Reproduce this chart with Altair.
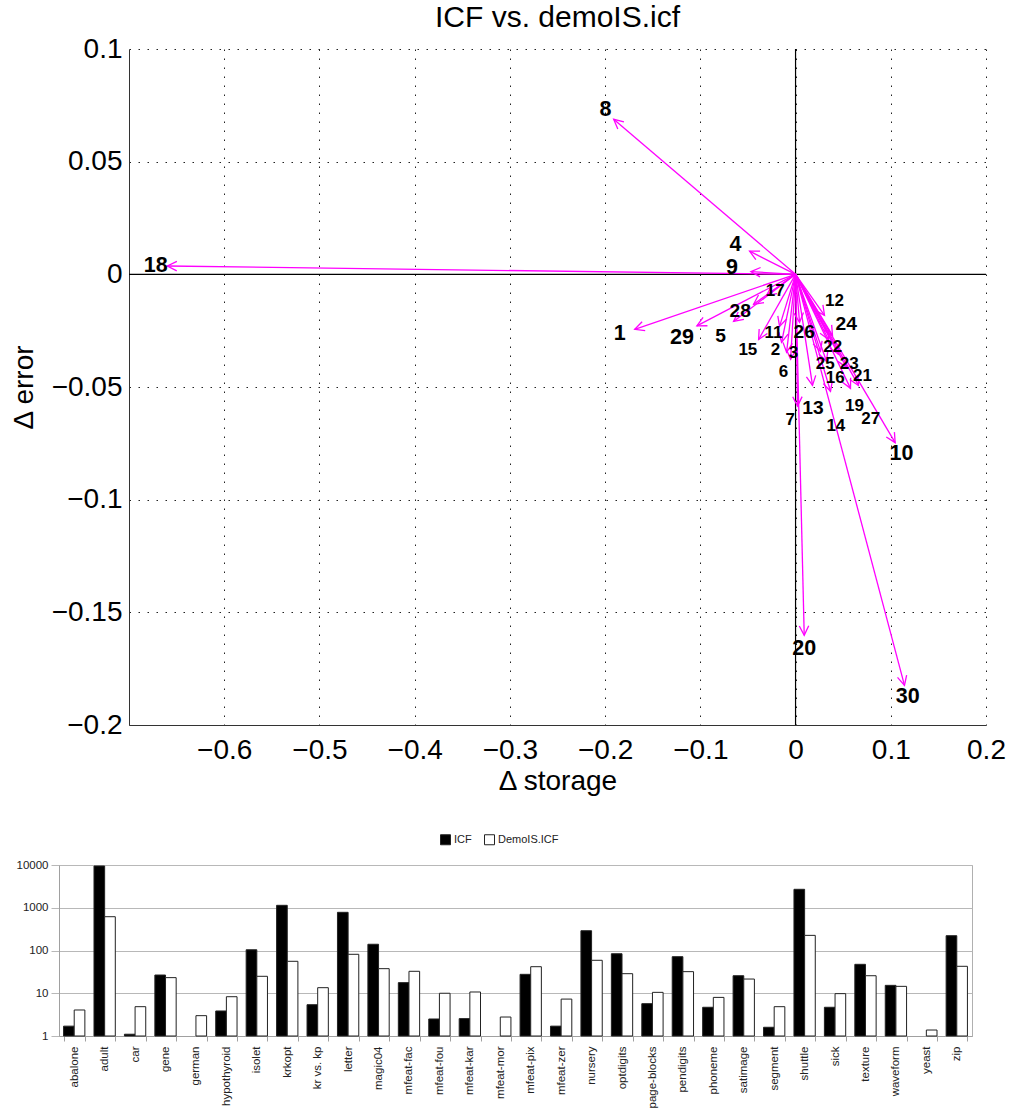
import math
import altair as alt
import pandas as pd

FONT = "Liberation Sans"

# ---------------- top panel data (Δ storage, Δ error per case) ----------------
case_ids = list(range(1, 31))
tip_storage = [-0.1689, -0.0147, -0.0094, -0.0483, -0.0651, -0.0052, 0.0021, -0.1910, -0.0469, 0.1046,
               -0.0168, 0.0304, 0.0178, 0.0367, -0.0388, 0.0325, -0.0304, -0.6597, 0.0577, 0.0091,
               0.0535, 0.0346, 0.0451, 0.0388, 0.0262, 0.0042, 0.0661, -0.0441, -0.1036, 0.1144]
tip_error = [-0.0244, -0.0302, -0.0346, 0.0103, -0.0209, -0.0377, -0.0585, 0.0688, 0.0012, -0.0747,
             -0.0231, -0.0182, -0.0493, -0.0519, -0.0289, -0.0386, -0.0093, 0.0037, -0.0506, -0.1602,
             -0.0413, -0.0289, -0.0355, -0.0271, -0.0342, -0.0213, -0.0493, -0.0133, -0.0229, -0.1824]
label_storage = [-0.1847, -0.0210, -0.0021, -0.0630, -0.0787, -0.0126, -0.0056, -0.1997, -0.0668, 0.1112,
                 -0.0231, 0.0409, 0.0182, 0.0423, -0.0501, 0.0417, -0.0213, -0.6719, 0.0619, 0.0091,
                 0.0703, 0.0391, 0.0563, 0.0532, 0.0311, 0.0091, 0.0790, -0.0580, -0.1193, 0.1178]
label_error = [-0.0266, -0.0337, -0.0351, 0.0129, -0.0275, -0.0434, -0.0647, 0.0729, 0.0027, -0.0799,
               -0.0262, -0.0119, -0.0592, -0.0673, -0.0336, -0.0458, -0.0074, 0.0037, -0.0585, -0.1661,
               -0.0451, -0.0321, -0.0396, -0.0222, -0.0396, -0.0256, -0.0644, -0.0163, -0.0281, -0.1876]
label_class = ["L", "S", "S", "L", "M", "S", "S", "L", "L", "L",
               "S", "S", "M", "S", "S", "S", "S", "L", "S", "L",
               "S", "S", "S", "M", "S", "M", "S", "M", "L", "L"]

x_ticks = [-0.6, -0.5, -0.4, -0.3, -0.2, -0.1, 0, 0.1, 0.2]
y_ticks = [0.1, 0.05, 0, -0.05, -0.1, -0.15, -0.2]
X_DOM = [-0.7, 0.2]
Y_DOM = [-0.2, 0.1]

# ---------------- bottom panel data ----------------
datasets = ["abalone", "adult", "car", "gene", "german", "hypothyroid", "isolet", "krkopt", "kr vs. kp",
            "letter", "magic04", "mfeat-fac", "mfeat-fou", "mfeat-kar", "mfeat-mor", "mfeat-pix",
            "mfeat-zer", "nursery", "optdigits", "page-blocks", "pendigits", "phoneme", "satimage",
            "segment", "shuttle", "sick", "texture", "waveform", "yeast", "zip"]
icf_values = [1.7, 9480, 1.1, 26.7, None, 3.85, 104, 1140, 5.4, 782, 140, 17.7, 2.5, 2.55, None, 27.7,
              1.7, 290, 84, 5.7, 71.6, 4.7, 25.7, 1.6, 2700, 4.7, 47.5, 15.3, None, 222]
demo_values = [4.06, 617, 4.85, 23.2, 2.99, 8.3, 24.9, 55.9, 13.5, 81.5, 37.6, 32.6, 10, 10.7, 2.78, 41.8,
               7.3, 59, 28.7, 10.5, 32, 8.0, 21.5, 4.85, 226, 9.8, 25.7, 14.5, 1.38, 42.7]
series_names = ["ICF", "DemoIS.ICF"]
log_ticks = [1, 10, 100, 1000, 10000]

# ---------------- layout sizes ----------------
W_TOP, H_TOP = 857, 676
W_BOT, H_BOT = 913, 171
TOP_SHIFT = 70  # horizontal offset of the upper plot area relative to the lower one

# ---------------- top panel ----------------
top_df = pd.DataFrame({
    "case": case_ids,
    "tip_storage": tip_storage,
    "tip_error": tip_error,
    "label_storage": label_storage,
    "label_error": label_error,
    "cls": label_class,
})
top_df["ox"] = 0.0
top_df["oy"] = 0.0
kx = W_TOP / (X_DOM[1] - X_DOM[0])
ky = H_TOP / (Y_DOM[1] - Y_DOM[0])
top_df["head_angle"] = [
    math.degrees(math.atan2(x * kx, y * ky)) % 360 for x, y in zip(tip_storage, tip_error)
]
zero_df = pd.DataFrame({"zx": [0.0], "zy": [0.0]})

axis_common = dict(
    labelFont=FONT, titleFont=FONT, labelFontSize=28, titleFontSize=28,
    titleFontWeight="normal", labelColor="black", titleColor="black",
    grid=True, gridColor="#222222", gridDash=[1.5, 7.5], gridWidth=1,
    ticks=False, tickSize=0, domainColor="#333333", domainWidth=1,
    labelFlush=False, labelOverlap=False,
)
x_axis = alt.Axis(values=x_ticks, format="~g", title="Δ storage", labelPadding=11,
                  titlePadding=3, **axis_common)
y_axis = alt.Axis(values=y_ticks, format="~g", title="Δ error", labelPadding=7,
                  titlePadding=13, **axis_common)
xs = alt.Scale(domain=X_DOM, nice=False, zero=False)
ys = alt.Scale(domain=Y_DOM, nice=False, zero=False)


def X(field):
    return alt.X(f"{field}:Q", scale=xs, axis=x_axis)


def Y(field):
    return alt.Y(f"{field}:Q", scale=ys, axis=y_axis)


zero_v = alt.Chart(zero_df).mark_rule(color="black", strokeWidth=1.2).encode(x=X("zx"))
zero_h = alt.Chart(zero_df).mark_rule(color="black", strokeWidth=1.2).encode(y=Y("zy"))

shafts = alt.Chart(top_df).mark_rule(color="#ff00ff", strokeWidth=1.3).encode(
    x=X("ox"), y=Y("oy"), x2="tip_storage:Q", y2="tip_error:Q"
)

CHEVRON = "M-0.45,0.9L0,0L0.45,0.9"
heads = alt.Chart(top_df).mark_point(
    shape=CHEVRON, filled=False, size=440, stroke="#ff00ff", color="#ff00ff",
    strokeWidth=1.3, opacity=1
).encode(
    x=X("tip_storage"), y=Y("tip_error"),
    angle=alt.Angle("head_angle:Q", scale=None),
)

labels = alt.Chart(top_df).mark_text(
    font=FONT, fontWeight="bold", color="black", align="center", baseline="middle"
).encode(
    x=X("label_storage"), y=Y("label_error"),
    text="case:N",
    size=alt.Size("cls:N", scale=alt.Scale(domain=["L", "M", "S"], range=[21.5, 17, 15]),
                  legend=None),
)

top = alt.layer(zero_v, zero_h, shafts, heads, labels).properties(
    width=W_TOP, height=H_TOP,
    title=alt.TitleParams(text="ICF vs. demoIS.icf", font=FONT, fontSize=30,
                          fontWeight="normal", color="black", offset=2, anchor="middle"),
)

# invisible spacer that shifts the upper panel to the right of the lower one
spacer = alt.Chart(pd.DataFrame({"s": [0]})).mark_point(opacity=0).encode(
    x=alt.value(0), y=alt.value(0)
).properties(width=TOP_SHIFT, height=H_TOP)

# ---------------- bottom panel ----------------
bar_df = pd.DataFrame({
    "dataset": datasets * 2,
    "series": ["ICF"] * len(datasets) + ["DemoIS.ICF"] * len(datasets),
    "value": icf_values + demo_values,
}).dropna()

bars = alt.Chart(bar_df).mark_bar(stroke="#222222", strokeWidth=1).encode(
    x=alt.X("dataset:N",
            scale=alt.Scale(domain=datasets, paddingInner=0.3, paddingOuter=0.15),
            axis=alt.Axis(title=None, labelAngle=270, tickBand="extent", ticks=True, tickSize=5,
                          tickColor="#a0a0a0", domainColor="#a0a0a0", labelFont=FONT,
                          labelFontSize=11.5, labelColor="#222222", labelPadding=5, grid=False)),
    xOffset=alt.XOffset("series:N",
                        scale=alt.Scale(domain=series_names, paddingInner=0, paddingOuter=0)),
    y=alt.Y("value:Q",
            scale=alt.Scale(type="log", domain=[1, 10000], nice=False),
            axis=alt.Axis(values=log_ticks, format="d", title=None, grid=True,
                          gridColor="#b8b8b8", tickSize=8, tickColor="#b8b8b8",
                          domainColor="#a0a0a0", labelFont=FONT, labelFontSize=11.5,
                          labelColor="#222222", labelPadding=3)),
    y2=alt.datum(1),
    fill=alt.Fill("series:N",
                  scale=alt.Scale(domain=series_names, range=["#000000", "#ffffff"]),
                  legend=alt.Legend(title=None, orient="none", legendX=381, legendY=-31,
                                    direction="horizontal", symbolType="square",
                                    symbolSize=100, symbolStrokeColor="#222222",
                                    symbolStrokeWidth=1, labelFont=FONT, labelFontSize=11,
                                    labelColor="#222222", columnPadding=10, labelOffset=3)),
)

bottom = alt.layer(bars).properties(
    width=W_BOT, height=H_BOT,
    view=alt.ViewBackground(stroke="#b0b0b0", strokeWidth=1),
)

top_wrap = alt.hconcat(spacer, top, spacing=0, bounds="flush").resolve_legend(size="independent")
bottom_wrap = alt.hconcat(bottom).resolve_legend(fill="independent")

chart = alt.vconcat(top_wrap, bottom_wrap, spacing=38).resolve_legend(
    fill="independent", size="independent"
).properties(
    padding={"left": 10, "top": 3, "right": 0, "bottom": 0},
).configure(font=FONT).configure_view(stroke=None)

chart.save("out.html", embed_options={"renderer": "svg", "actions": False})
